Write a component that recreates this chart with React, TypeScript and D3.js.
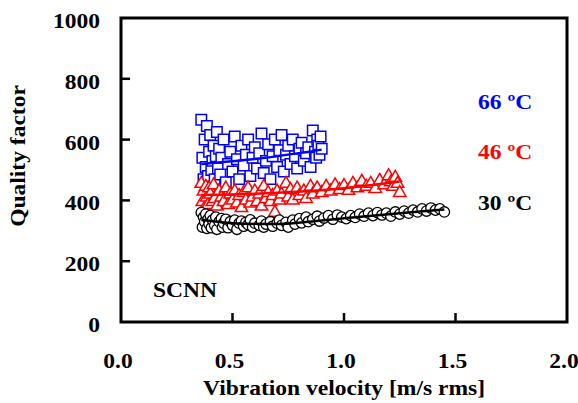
import React from 'react';
import * as d3 from 'd3';

// 30 ºC – circles
const x30 = [0.36, 0.365, 0.37, 0.375, 0.38, 0.385, 0.39, 0.395, 0.4, 0.405, 0.41, 0.42, 0.425, 0.43, 0.44, 0.45, 0.455, 0.46, 0.47, 0.48, 0.49, 0.5, 0.51, 0.52, 0.53, 0.54, 0.55, 0.56, 0.57, 0.58, 0.59, 0.6, 0.62, 0.63, 0.64, 0.65, 0.67, 0.68, 0.7, 0.71, 0.72, 0.74, 0.75, 0.77, 0.78, 0.8, 0.81, 0.83, 0.84, 0.86, 0.88, 0.89, 0.91, 0.93, 0.95, 0.97, 0.99, 1.01, 1.03, 1.05, 1.07, 1.09, 1.11, 1.13, 1.15, 1.17, 1.19, 1.21, 1.23, 1.25, 1.27, 1.29, 1.31, 1.33, 1.35, 1.37, 1.39, 1.41, 1.43, 1.45];
const y30 = [360, 312, 345, 330, 355, 308, 338, 322, 350, 310, 335, 318, 345, 305, 330, 340, 312, 325, 338, 310, 330, 318, 335, 305, 325, 332, 315, 328, 320, 336, 312, 325, 318, 332, 312, 322, 330, 315, 325, 335, 318, 328, 312, 335, 322, 340, 326, 345, 330, 338, 348, 332, 342, 350, 338, 352, 345, 340, 350, 344, 355, 348, 358, 350, 360, 352, 358, 348, 362, 355, 365, 358, 368, 362, 372, 365, 375, 368, 372, 362];
const fitX30 = [0.36, 0.5, 0.7, 0.9, 1.1, 1.3, 1.45];
const fitY30 = [336, 325, 322, 334, 348, 361, 370];

// 46 ºC – triangles
const x46 = [0.36, 0.365, 0.37, 0.375, 0.38, 0.385, 0.39, 0.395, 0.4, 0.41, 0.415, 0.42, 0.43, 0.44, 0.45, 0.46, 0.47, 0.48, 0.49, 0.5, 0.51, 0.52, 0.53, 0.54, 0.55, 0.56, 0.57, 0.58, 0.59, 0.6, 0.61, 0.62, 0.63, 0.64, 0.65, 0.66, 0.67, 0.68, 0.69, 0.7, 0.71, 0.72, 0.74, 0.75, 0.76, 0.77, 0.79, 0.8, 0.82, 0.83, 0.85, 0.86, 0.88, 0.9, 0.92, 0.94, 0.96, 0.98, 1.0, 1.02, 1.04, 1.06, 1.08, 1.1, 1.12, 1.14, 1.16, 1.18, 1.2, 1.21, 1.22, 1.23, 1.24, 1.25];
const y46 = [455, 395, 430, 375, 445, 410, 385, 440, 420, 395, 450, 405, 380, 430, 410, 395, 440, 385, 420, 400, 430, 390, 415, 375, 425, 400, 440, 390, 410, 430, 395, 420, 380, 445, 405, 425, 395, 415, 360, 430, 400, 420, 455, 410, 435, 400, 440, 415, 430, 405, 445, 420, 440, 425, 445, 430, 450, 435, 448, 432, 455, 440, 462, 445, 455, 438, 465, 450, 480, 460, 445, 475, 455, 425];
const fitX46 = [0.36, 0.7, 1.0, 1.25];
const fitY46 = [418, 425, 440, 462];

// 66 ºC – squares
const x66 = [0.36, 0.365, 0.37, 0.375, 0.38, 0.385, 0.39, 0.395, 0.4, 0.405, 0.41, 0.415, 0.42, 0.425, 0.43, 0.435, 0.44, 0.445, 0.45, 0.46, 0.47, 0.48, 0.49, 0.5, 0.51, 0.52, 0.53, 0.535, 0.54, 0.55, 0.56, 0.57, 0.58, 0.59, 0.6, 0.61, 0.62, 0.63, 0.64, 0.65, 0.66, 0.67, 0.68, 0.69, 0.7, 0.71, 0.72, 0.73, 0.74, 0.75, 0.76, 0.77, 0.78, 0.79, 0.8, 0.81, 0.82, 0.83, 0.84, 0.85, 0.86, 0.87, 0.875, 0.88, 0.885, 0.89, 0.895, 0.9];
const y66 = [665, 540, 470, 600, 510, 645, 480, 560, 615, 500, 530, 580, 470, 545, 625, 505, 570, 485, 540, 600, 460, 520, 560, 495, 610, 535, 470, 415, 580, 515, 550, 600, 480, 540, 575, 505, 555, 620, 490, 530, 585, 470, 545, 600, 510, 565, 615, 495, 550, 580, 520, 600, 545, 505, 570, 590, 530, 555, 575, 510, 630, 560, 540, 600, 580, 550, 610, 570];
const fitX66 = [0.36, 0.6, 0.9];
const fitY66 = [520, 536, 567];

const xTicks = [0, 0.5, 1.0, 1.5, 2.0];
const yTicks = [0, 200, 400, 600, 800, 1000];

const W = 578;
const H = 403;
const FONT = '"Liberation Serif", "Times New Roman", serif';

// bold Times text, slightly widened like the original export
const Label = ({ x, y, anchor = 'start', fill = '#000', children }: any) => (
  <g transform={`translate(${x},${y}) scale(1.07,1)`}>
    <text x={0} y={0} textAnchor={anchor} fontSize={22} fill={fill}>
      {children}
    </text>
  </g>
);

export default function App() {
  const x = d3.scaleLinear().domain([0, 2]).range([121, 567]);
  const y = d3.scaleLinear().domain([0, 1000]).range([322, 18]);

  const line = d3
    .line<[number, number]>()
    .x((d) => x(d[0]))
    .y((d) => y(d[1]))
    .curve(d3.curveMonotoneX);

  const square = d3.symbol(d3.symbolSquare, 110)();
  const triangle = d3.symbol(d3.symbolTriangle, 68)();

  const series = [
    { xs: x66, ys: y66, fx: fitX66, fy: fitY66, color: '#0000ff', shape: 'square' },
    { xs: x46, ys: y46, fx: fitX46, fy: fitY46, color: '#ff0000', shape: 'triangle' },
    { xs: x30, ys: y30, fx: fitX30, fy: fitY30, color: '#000000', shape: 'circle' },
  ];

  return (
    <svg width={W} height={H} style={{ position: 'absolute', left: 0, top: 0, background: '#fff' }} fontFamily={FONT} fontWeight="bold">
      {series.map((s, si) => (
        <g key={si}>
          {s.xs.map((v, i) =>
            s.shape === 'circle' ? (
              <circle key={i} cx={x(v)} cy={y(s.ys[i])} r={5.2} fill="#fff" stroke={s.color} strokeWidth={1.3} />
            ) : (
              <path
                key={i}
                d={s.shape === 'square' ? square : triangle}
                transform={`translate(${x(v)},${y(s.ys[i])})`}
                fill="#fff"
                stroke={s.color}
                strokeWidth={1.5}
              />
            )
          )}
          <path d={line(s.fx.map((v, i) => [v, s.fy[i]] as [number, number])) || ''} fill="none" stroke={s.color} strokeWidth={2.5} />
        </g>
      ))}

      {/* frame */}
      <rect x={x(0)} y={y(1000)} width={x(2) - x(0)} height={y(0) - y(1000)} fill="none" stroke="#000" strokeWidth={3} />

      {/* ticks */}
      {xTicks.slice(1, -1).map((t) => (
        <line key={'xt' + t} x1={x(t)} x2={x(t)} y1={y(0)} y2={y(0) - 9} stroke="#000" strokeWidth={2.5} />
      ))}
      {yTicks.slice(1, -1).map((t) => (
        <line key={'yt' + t} x1={x(0)} x2={x(0) + 9} y1={y(t)} y2={y(t)} stroke="#000" strokeWidth={2.5} />
      ))}

      {/* tick labels */}
      {xTicks.map((t) => (
        <Label key={'xl' + t} x={x(t) - 3} y={368} anchor="middle">
          {t.toFixed(1)}
        </Label>
      ))}
      {yTicks.map((t) => (
        <Label key={'yl' + t} x={100} y={y(t) + 10} anchor="end">
          {t}
        </Label>
      ))}

      {/* axis titles */}
      <Label x={344} y={395} anchor="middle">
        Vibration velocity [m/s rms]
      </Label>
      <g transform="translate(25,156) rotate(-90) scale(1.07,1)">
        <text textAnchor="middle" fontSize={22}>
          Quality factor
        </text>
      </g>

      {/* annotations */}
      <Label x={478} y={109} fill="#0000ff">66 ºC</Label>
      <Label x={478} y={159} fill="#ff0000">46 ºC</Label>
      <Label x={478} y={210}>30 ºC</Label>
      <Label x={153} y={297}>SCNN</Label>
    </svg>
  );
}
